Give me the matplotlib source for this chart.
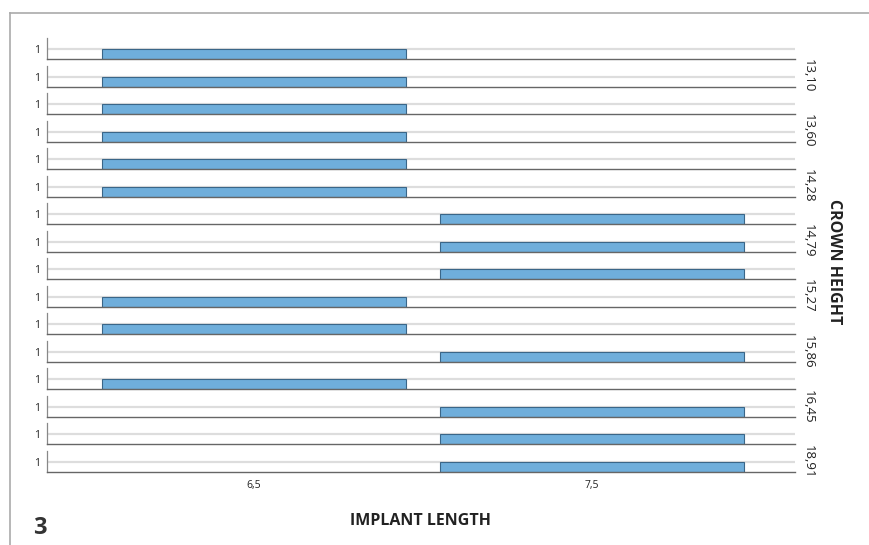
import matplotlib
matplotlib.use("Agg")
import matplotlib.pyplot as plt
from matplotlib.lines import Line2D

plt.rcParams["font.family"] = ["Open Sans", "DejaVu Sans"]

# ---- data (one panel per case) ----
categories = ["6,5", "7,5"]
implant_length = ["6,5", "6,5", "6,5", "6,5", "6,5", "6,5",
                  "7,5", "7,5", "7,5", "6,5", "6,5", "7,5",
                  "6,5", "7,5", "7,5", "7,5"]
counts = [1] * 16
# only every second panel label is printed in the original
crown_height = ["13,10", "13,60", "14,28", "14,79", "15,27", "15,86", "16,45", "18,91"]

W, H = 869, 545
bar_col, bar_edge = "#6FAEDB", "#3A6688"
grid_col, spine_col, txt = "#DDDDDD", "#666666", "#222222"

fig = plt.figure(figsize=(W / 100, H / 100), dpi=100)

left, right = 47, 795
first_bottom, step, ph = 59, 27.53, 21
n = len(counts)
for i in range(n):
    bot = first_bottom + i * step
    ax = fig.add_axes([left / W, 1 - bot / H, (right - left) / W, ph / H])
    xi = categories.index(implant_length[i])
    ax.axhline(1, color=grid_col, lw=1.6, zorder=0)
    ax.bar([xi], [counts[i]], width=0.9, color=bar_col, edgecolor=bar_edge, lw=0.8, zorder=2)
    ax.set_xlim(-0.612, 1.6)
    ax.set_ylim(0, 2.1)
    for s in ["top", "right"]:
        ax.spines[s].set_visible(False)
    ax.spines["bottom"].set_color(spine_col)
    ax.spines["bottom"].set_linewidth(1.0)
    ax.spines["left"].set_color("#888888")
    ax.spines["left"].set_linewidth(0.9)
    ax.set_yticks([1])
    ax.set_yticklabels(["1"], fontsize=7.5, color=txt)
    ax.tick_params(axis="y", length=0, pad=5)
    ax.set_xticks(range(len(categories)))
    if i == n - 1:
        ax.set_xticklabels(categories, fontsize=7.5, color=txt)
        ax.tick_params(axis="x", length=0, pad=6)
    else:
        ax.set_xticklabels([])
        ax.tick_params(axis="x", length=0)
    if i % 2 == 1:
        ax.text(1.009, 0.5, crown_height[i // 2], transform=ax.transAxes, rotation=-90,
                ha="left", va="center", fontsize=9.5, color=txt)

fig.text(834 / W, 1 - 262 / H, "CROWN HEIGHT", rotation=-90, ha="center", va="center",
         fontsize=11.5, fontweight="bold", color=txt)
fig.text(421 / W, 1 - 521 / H, "IMPLANT LENGTH", ha="center", va="center",
         fontsize=11.5, fontweight="bold", color=txt)
fig.text(33 / W, 1 - 528 / H, "3", ha="left", va="center", fontsize=17,
         fontweight="bold", color="#333333")

# panel frame
fig.add_artist(Line2D([10 / W, 1], [1 - 13 / H, 1 - 13 / H], color="#AAAAAA", lw=1.2))
fig.add_artist(Line2D([10 / W, 10 / W], [0, 1 - 13 / H], color="#AAAAAA", lw=1.2))

fig.savefig("out.png", dpi=100)
